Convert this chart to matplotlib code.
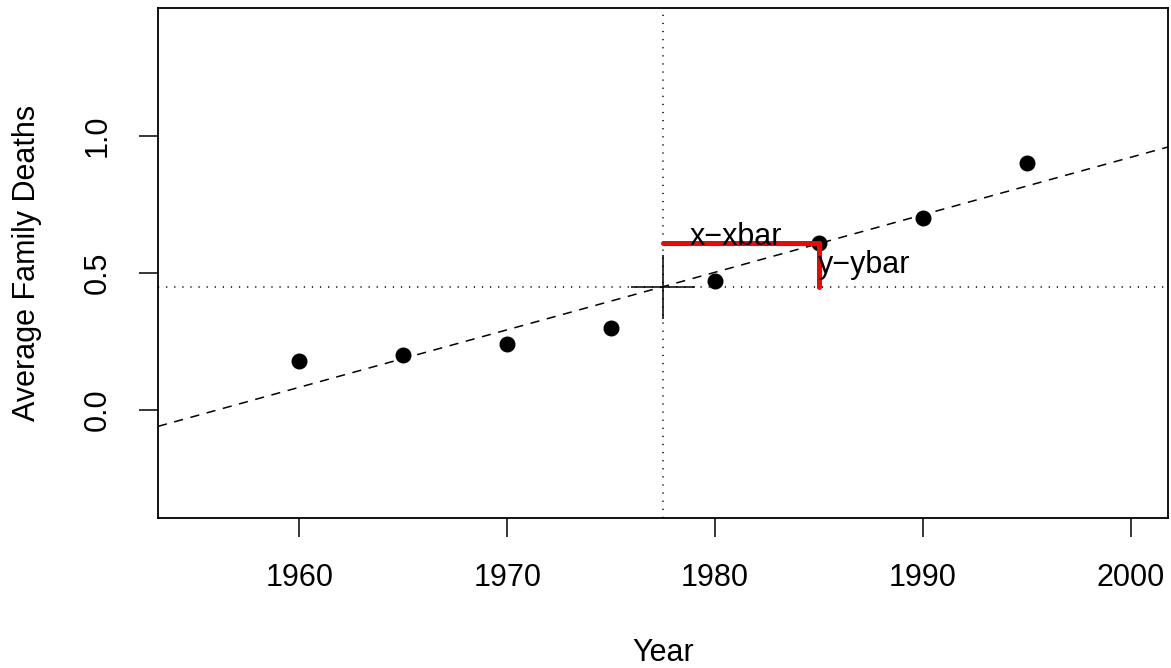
import matplotlib
matplotlib.use("Agg")
import matplotlib.pyplot as plt
import numpy as np

plt.rcParams["font.family"] = ["Liberation Sans", "DejaVu Sans"]

# dados
years = np.array([1960, 1965, 1970, 1975, 1980, 1985, 1990, 1995])
deaths = np.array([0.18, 0.20, 0.24, 0.30, 0.47, 0.61, 0.70, 0.90])
x_ticks = [1960, 1970, 1980, 1990, 2000]
y_ticks = [0.0, 0.5, 1.0]
y_tick_labels = ["0.0", "0.5", "1.0"]
ponto = 5  # indice do ponto destacado (1985)

xbar = years.mean()
ybar = deaths.mean()
slope, intercept = np.polyfit(years, deaths, 1)

fig = plt.figure(figsize=(11.71, 6.68), dpi=100)
ax = fig.add_axes([158 / 1171, 1 - 518 / 668, 1010 / 1171, 510 / 668])

xlim = (1953.2, 2001.8)
ylim = (-0.395, 1.468)
ax.set_xlim(xlim)
ax.set_ylim(ylim)

# pontos
ax.plot(years, deaths, "o", color="black", markersize=10.5, zorder=3)

# reta de regressao
xs = np.array(xlim)
ax.plot(xs, intercept + slope * xs, color="black", linewidth=1.1,
        dashes=(6, 5), zorder=2)

# medias
ax.axhline(ybar, color="black", linewidth=1.1, dashes=(0.8, 4.5))
ax.axvline(xbar, color="black", linewidth=1.1, dashes=(0.8, 4.5))
ax.plot([xbar], [ybar], marker="+", color="black", markersize=46,
        markeredgewidth=1.1, zorder=3)

# segmentos x-xbar e y-ybar
xp, yp = years[ponto], deaths[ponto]
ax.plot([xbar, xp], [yp, yp], color="red", linewidth=3.6,
        solid_capstyle="round", zorder=4)
ax.plot([xp, xp], [yp, ybar], color="red", linewidth=3.6,
        solid_capstyle="round", zorder=4)
ax.text(1981.0, 0.632, "x\u2212xbar", fontsize=22,
        ha="center", va="center", zorder=5)
ax.text(xp + 2.2, 0.53, "y\u2212ybar", fontsize=22,
        ha="center", va="center", zorder=5)

# eixos
ax.set_xticks(x_ticks)
ax.set_xticklabels([str(t) for t in x_ticks])
ax.set_yticks(y_ticks)
ax.set_yticklabels(y_tick_labels, rotation=90, va="center")
ax.tick_params(axis="both", labelsize=22, length=13.5, width=1.1,
               color="black", direction="out")
ax.tick_params(axis="x", pad=19)
ax.tick_params(axis="y", pad=19)
for s in ax.spines.values():
    s.set_linewidth(1.3)

ax.set_xlabel("Year", fontsize=22)
ax.xaxis.set_label_coords(0.5, -0.235)
ax.set_ylabel("Average Family Deaths", fontsize=22)
ax.yaxis.set_label_coords(-0.115, 0.5)

fig.savefig("out.png", dpi=100)
